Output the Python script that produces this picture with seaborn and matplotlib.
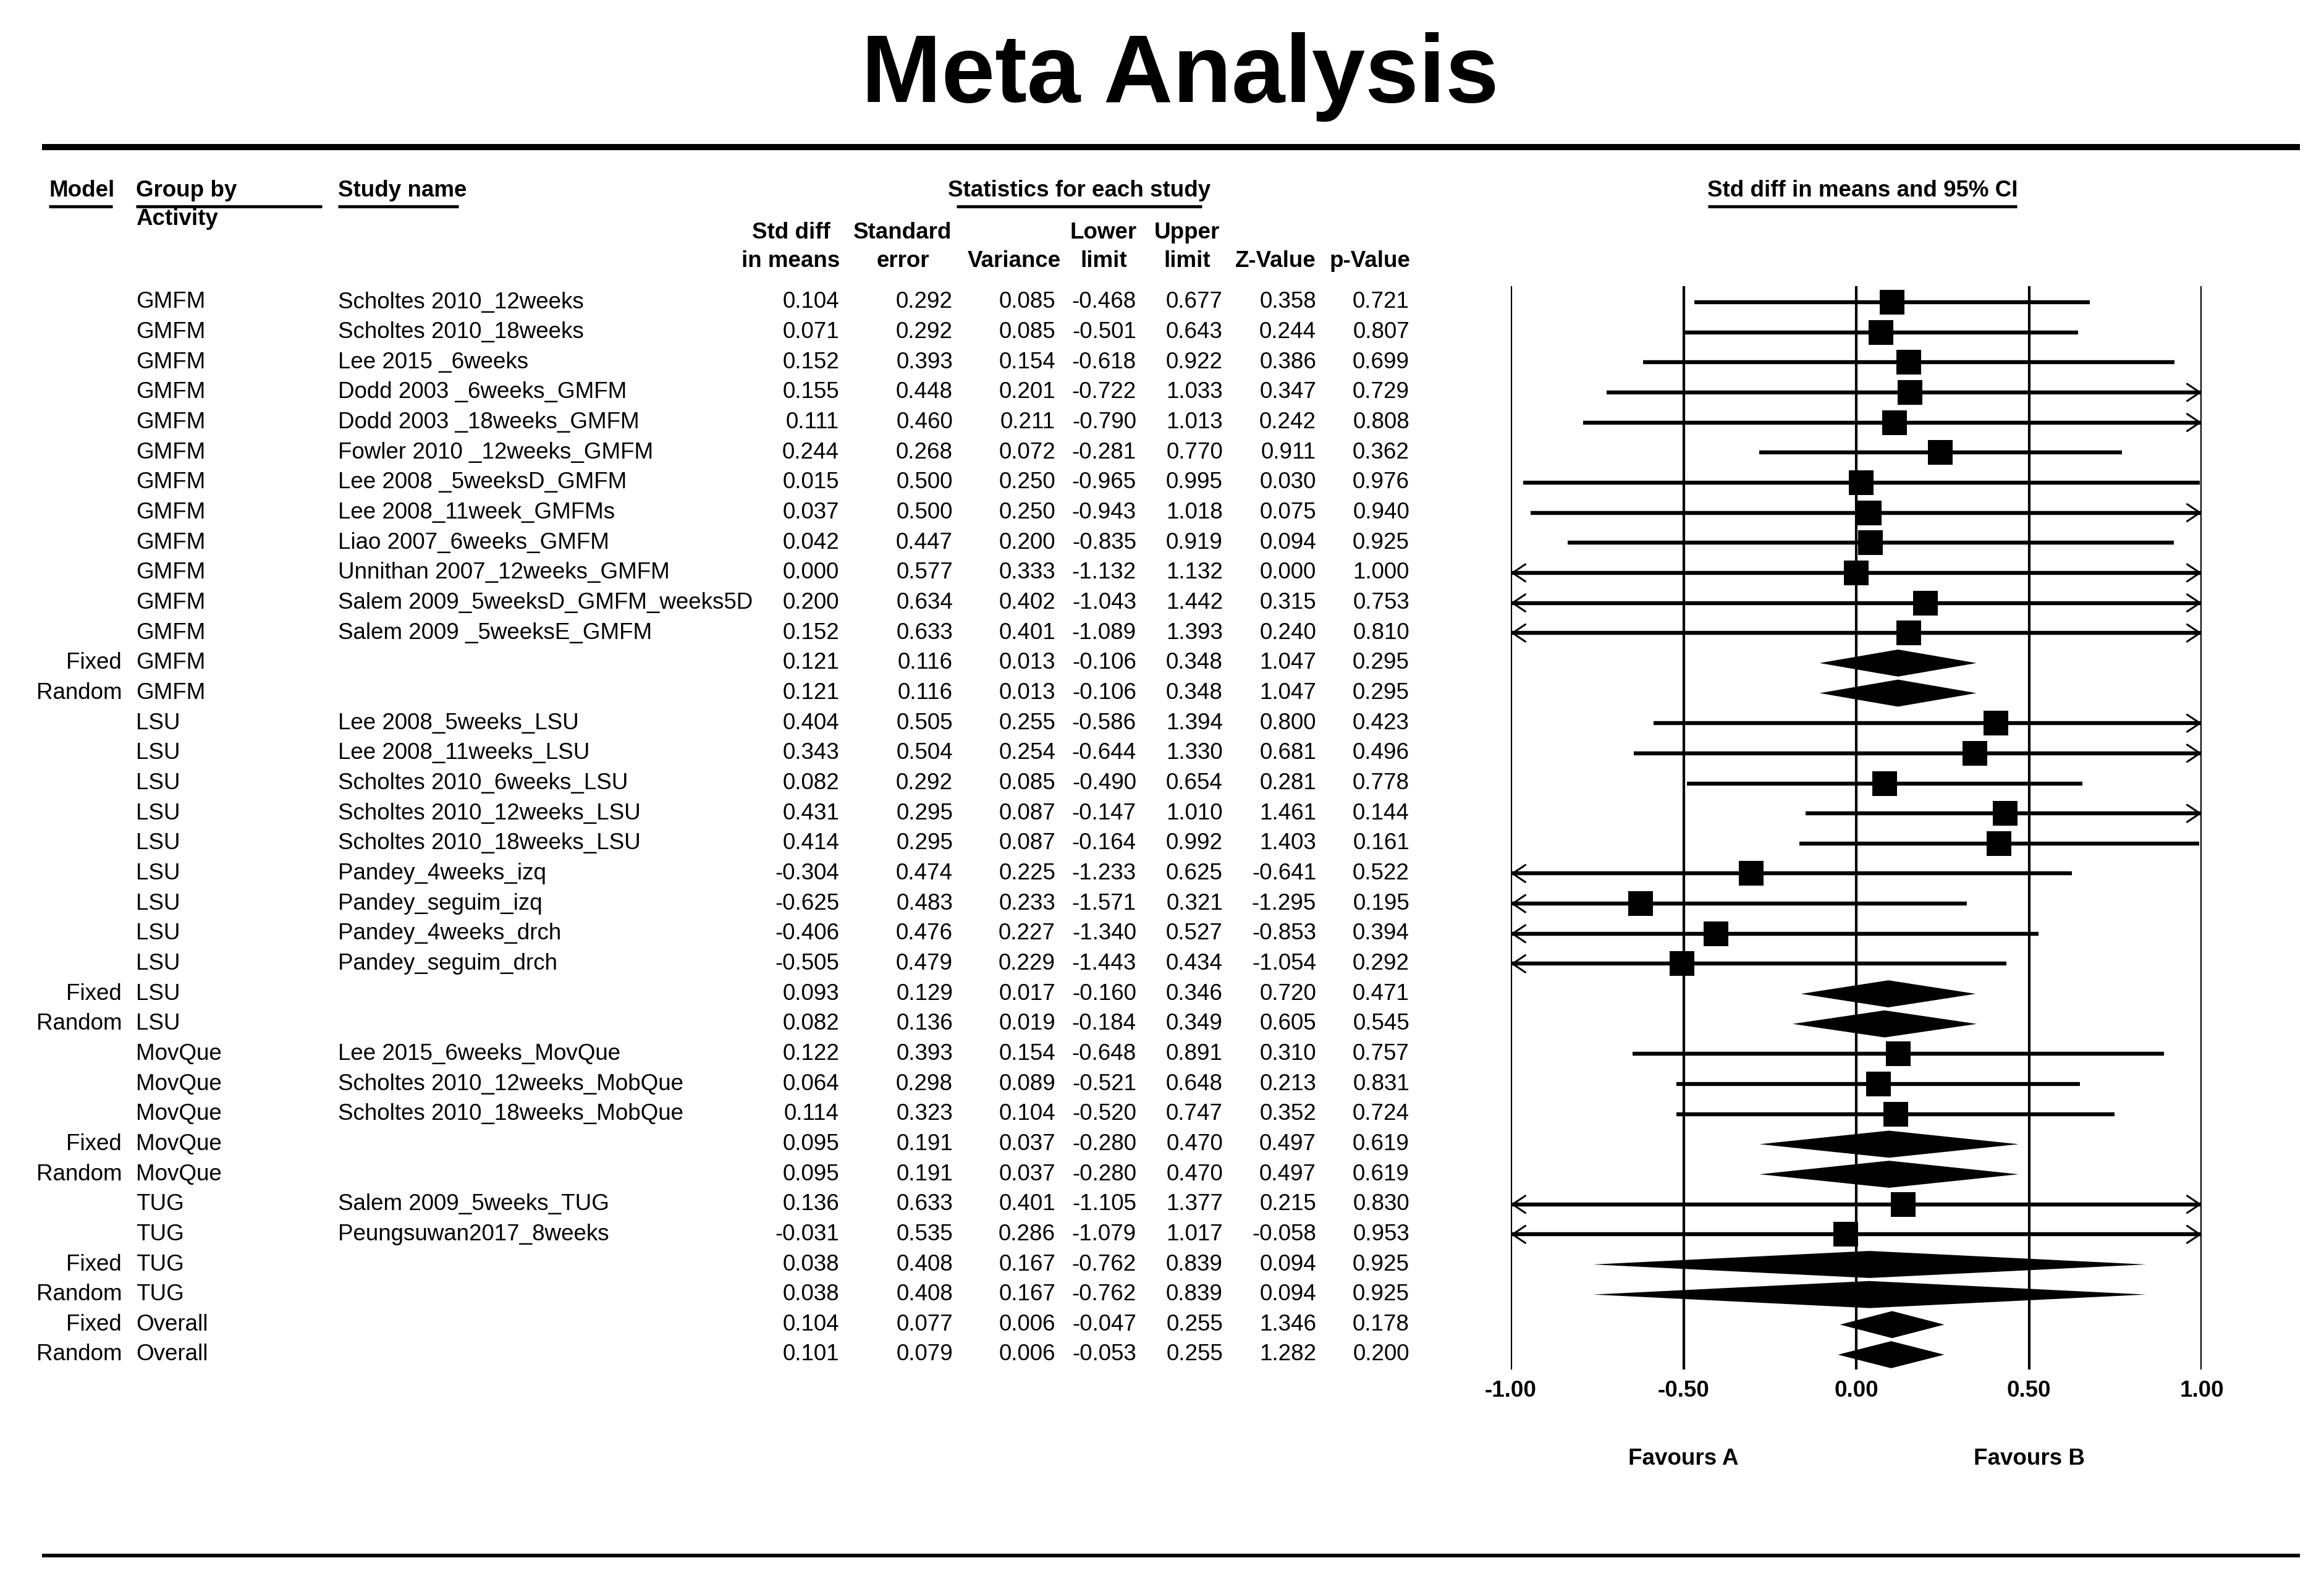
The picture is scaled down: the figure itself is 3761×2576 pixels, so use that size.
import numpy as np
import pandas as pd
import seaborn as sns
import matplotlib.pyplot as plt
from matplotlib.lines import Line2D

# ---- data ----
model = ([''] * 12 + ['Fixed', 'Random'] + [''] * 9 + ['Fixed', 'Random']
         + [''] * 3 + ['Fixed', 'Random'] + [''] * 2
         + ['Fixed', 'Random', 'Fixed', 'Random'])
group = ['GMFM'] * 14 + ['LSU'] * 11 + ['MovQue'] * 5 + ['TUG'] * 4 + ['Overall'] * 2
study = [
    'Scholtes 2010_12weeks', 'Scholtes 2010_18weeks', 'Lee 2015 _6weeks',
    'Dodd 2003 _6weeks_GMFM', 'Dodd 2003 _18weeks_GMFM', 'Fowler 2010 _12weeks_GMFM',
    'Lee 2008 _5weeksD_GMFM', 'Lee 2008_11week_GMFMs', 'Liao 2007_6weeks_GMFM',
    'Unnithan 2007_12weeks_GMFM', 'Salem 2009_5weeksD_GMFM_weeks5D',
    'Salem 2009 _5weeksE_GMFM', '', '',
    'Lee 2008_5weeks_LSU', 'Lee 2008_11weeks_LSU', 'Scholtes 2010_6weeks_LSU',
    'Scholtes 2010_12weeks_LSU', 'Scholtes 2010_18weeks_LSU', 'Pandey_4weeks_izq',
    'Pandey_seguim_izq', 'Pandey_4weeks_drch', 'Pandey_seguim_drch', '', '',
    'Lee 2015_6weeks_MovQue', 'Scholtes 2010_12weeks_MobQue',
    'Scholtes 2010_18weeks_MobQue', '', '',
    'Salem 2009_5weeks_TUG', 'Peungsuwan2017_8weeks', '', '', '', '',
]
std_diff = [0.104, 0.071, 0.152, 0.155, 0.111, 0.244, 0.015, 0.037, 0.042, 0.000, 0.200, 0.152,
            0.121, 0.121,
            0.404, 0.343, 0.082, 0.431, 0.414, -0.304, -0.625, -0.406, -0.505, 0.093, 0.082,
            0.122, 0.064, 0.114, 0.095, 0.095,
            0.136, -0.031, 0.038, 0.038, 0.104, 0.101]
std_err = [0.292, 0.292, 0.393, 0.448, 0.460, 0.268, 0.500, 0.500, 0.447, 0.577, 0.634, 0.633,
           0.116, 0.116,
           0.505, 0.504, 0.292, 0.295, 0.295, 0.474, 0.483, 0.476, 0.479, 0.129, 0.136,
           0.393, 0.298, 0.323, 0.191, 0.191,
           0.633, 0.535, 0.408, 0.408, 0.077, 0.079]
variance = [0.085, 0.085, 0.154, 0.201, 0.211, 0.072, 0.250, 0.250, 0.200, 0.333, 0.402, 0.401,
            0.013, 0.013,
            0.255, 0.254, 0.085, 0.087, 0.087, 0.225, 0.233, 0.227, 0.229, 0.017, 0.019,
            0.154, 0.089, 0.104, 0.037, 0.037,
            0.401, 0.286, 0.167, 0.167, 0.006, 0.006]
lower = [-0.468, -0.501, -0.618, -0.722, -0.790, -0.281, -0.965, -0.943, -0.835, -1.132, -1.043, -1.089,
         -0.106, -0.106,
         -0.586, -0.644, -0.490, -0.147, -0.164, -1.233, -1.571, -1.340, -1.443, -0.160, -0.184,
         -0.648, -0.521, -0.520, -0.280, -0.280,
         -1.105, -1.079, -0.762, -0.762, -0.047, -0.053]
upper = [0.677, 0.643, 0.922, 1.033, 1.013, 0.770, 0.995, 1.018, 0.919, 1.132, 1.442, 1.393,
         0.348, 0.348,
         1.394, 1.330, 0.654, 1.010, 0.992, 0.625, 0.321, 0.527, 0.434, 0.346, 0.349,
         0.891, 0.648, 0.747, 0.470, 0.470,
         1.377, 1.017, 0.839, 0.839, 0.255, 0.255]
z_value = [0.358, 0.244, 0.386, 0.347, 0.242, 0.911, 0.030, 0.075, 0.094, 0.000, 0.315, 0.240,
           1.047, 1.047,
           0.800, 0.681, 0.281, 1.461, 1.403, -0.641, -1.295, -0.853, -1.054, 0.720, 0.605,
           0.310, 0.213, 0.352, 0.497, 0.497,
           0.215, -0.058, 0.094, 0.094, 1.346, 1.282]
p_value = [0.721, 0.807, 0.699, 0.729, 0.808, 0.362, 0.976, 0.940, 0.925, 1.000, 0.753, 0.810,
           0.295, 0.295,
           0.423, 0.496, 0.778, 0.144, 0.161, 0.522, 0.195, 0.394, 0.292, 0.471, 0.545,
           0.757, 0.831, 0.724, 0.619, 0.619,
           0.830, 0.953, 0.925, 0.925, 0.178, 0.200]
tick_vals = [-1.0, -0.5, 0.0, 0.5, 1.0]
tick_labels = ['-1.00', '-0.50', '0.00', '0.50', '1.00']

df = pd.DataFrame({'model': model, 'group': group, 'study': study,
                   'std_diff': std_diff, 'std_err': std_err, 'variance': variance,
                   'lower': lower, 'upper': upper, 'z_value': z_value, 'p_value': p_value})
df['row'] = np.arange(len(df))
df['summary'] = df['model'] != ''

# ---- layout (pixels of the 3761x2576 canvas) ----
W, H = 3761, 2576
FS = 26.5
row0_px, row_h = 489, 48.657
top_px, bot_px = 463, 2216
ylim = ((bot_px - row0_px) / row_h, (top_px - row0_px) / row_h)

sns.set_style('white')
plt.rcParams['font.family'] = ['Liberation Sans', 'DejaVu Sans']
plt.rcParams['text.color'] = 'black'
plt.rcParams['xtick.color'] = 'black'
plt.rcParams['xtick.labelcolor'] = 'black'

fig = plt.figure(figsize=(W / 100, H / 100), dpi=100)


def fx(x):
    return x / W


def fy(y):
    return 1 - y / H


def hline(x0, x1, y, lw):
    fig.add_artist(Line2D([fx(x0), fx(x1)], [fy(y), fy(y)], lw=lw, color='black',
                          solid_capstyle='butt'))


# title and rules
fig.text(fx(1910), fy(165), 'Meta Analysis', ha='center', va='baseline',
         fontsize=112, fontweight='bold')
hline(68, 3722, 238, 7.2)
hline(68, 3722, 2517, 4.3)

# column headers
hdr_y = 308
for x, s, x0, x1 in [(79, 'Model', 79, 182), (220, 'Group by', 220, 521),
                     (547, 'Study name', 547, 742)]:
    fig.text(fx(x), fy(hdr_y), s, ha='left', va='center', fontsize=FS, fontweight='bold')
    hline(x0, x1, 334, 3.6)
fig.text(fx(220), fy(355), 'Activity', ha='left', va='center', fontsize=FS, fontweight='bold')
fig.text(fx(1747), fy(hdr_y), 'Statistics for each study', ha='center', va='center',
         fontsize=FS, fontweight='bold')
hline(1548, 1945, 334, 3.6)
fig.text(fx(3014), fy(hdr_y), 'Std diff in means and 95% CI', ha='center', va='center',
         fontsize=FS, fontweight='bold')
hline(2764, 3264, 334, 3.6)

sub_headers = [(1280, 'Std diff', 'in means'), (1461, 'Standard', 'error'),
               (1641, '', 'Variance'), (1786, 'Lower', 'limit'), (1921, 'Upper', 'limit'),
               (2064, '', 'Z-Value'), (2217, '', 'p-Value')]
for x, a, b in sub_headers:
    if a:
        fig.text(fx(x), fy(377), a, ha='center', va='center', fontsize=FS, fontweight='bold')
    fig.text(fx(x), fy(423), b, ha='center', va='center', fontsize=FS, fontweight='bold')

# ---- table text ----
ax_t = fig.add_axes([0, fy(bot_px), 1, (bot_px - top_px) / H])
ax_t.set_xlim(0, W)
ax_t.set_ylim(*ylim)
ax_t.axis('off')

num_cols = [('std_diff', 1358), ('std_err', 1542), ('variance', 1708), ('lower', 1839),
            ('upper', 1979), ('z_value', 2130), ('p_value', 2281)]
for _, r in df.iterrows():
    y = r['row']
    ax_t.text(197, y, r['model'], ha='right', va='center', fontsize=FS)
    ax_t.text(220, y, r['group'], ha='left', va='center', fontsize=FS)
    ax_t.text(547, y, r['study'], ha='left', va='center', fontsize=FS)
    for col, x in num_cols:
        ax_t.text(x, y, f"{r[col]:.3f}", ha='right', va='center', fontsize=FS)

# ---- forest plot ----
fx0, fx1 = 2445, 3563
ax_f = fig.add_axes([fx(fx0), fy(bot_px), (fx1 - fx0) / W, (bot_px - top_px) / H])
ax_f.set_xlim(-1, 1)
ax_f.set_ylim(*ylim)
for v in tick_vals:
    ax_f.axvline(v, color='black', lw=3.0, zorder=1)

studies = df[~df['summary']]
ax_f.hlines(studies['row'], studies['lower'].clip(-1, 1), studies['upper'].clip(-1, 1),
            color='black', lw=4.6, zorder=2)
sns.scatterplot(data=studies, x='std_diff', y='row', marker='s', s=820, color='black',
                linewidth=0, legend=False, ax=ax_f, zorder=3)

# open arrow heads where the interval runs off the scale
arrow = dict(arrowstyle='->,head_length=0.6,head_width=0.4', lw=2.2, color='black',
             mutation_scale=25, shrinkA=0, shrinkB=0)
for _, r in studies.iterrows():
    if r['upper'] > 1:
        ax_f.annotate('', xy=(1, r['row']), xytext=(0.9, r['row']), arrowprops=arrow)
    if r['lower'] < -1:
        ax_f.annotate('', xy=(-1, r['row']), xytext=(-0.9, r['row']), arrowprops=arrow)

# summary diamonds
h = 0.45
for _, r in df[df['summary']].iterrows():
    y = r['row']
    ax_f.fill([r['lower'], r['std_diff'], r['upper'], r['std_diff']],
              [y, y - h, y, y + h], color='black', lw=0, zorder=3)

ax_f.set_xticks(tick_vals, labels=tick_labels, fontsize=FS, fontweight='bold')
ax_f.tick_params(axis='x', length=0, pad=12, colors='black')
ax_f.set_yticks([])
ax_f.set_xlabel('')
ax_f.set_ylabel('')
for sp in ax_f.spines.values():
    sp.set_visible(False)

fav_row = (2360 - row0_px) / row_h
ax_f.text(-0.5, fav_row, 'Favours A', ha='center', va='center', fontsize=FS,
          fontweight='bold', clip_on=False)
ax_f.text(0.5, fav_row, 'Favours B', ha='center', va='center', fontsize=FS,
          fontweight='bold', clip_on=False)

fig.savefig('out.png', dpi=100, facecolor='white')
